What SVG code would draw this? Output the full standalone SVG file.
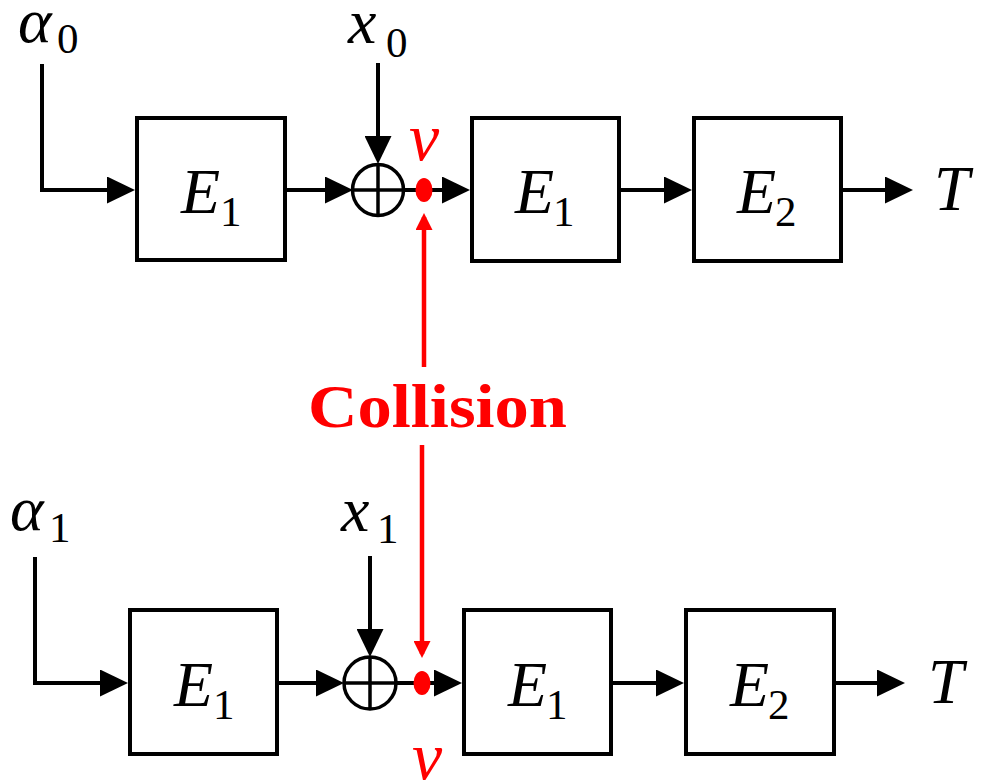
<svg xmlns="http://www.w3.org/2000/svg" width="981" height="781" viewBox="0 0 981 781">
<style>
.box{fill:#fff;stroke:#000;stroke-width:4}
.ln{fill:none;stroke:#000;stroke-width:4}
.xor{fill:#fff;stroke:#000;stroke-width:3.5}
.red{fill:none;stroke:#f00;stroke-width:4.5}
.mi{font-family:"Liberation Serif","Times New Roman",serif;font-style:italic;font-size:64px;fill:#000}
.sub{font-family:"Liberation Serif","Times New Roman",serif;font-size:43px;fill:#000}
.rv{font-family:"Liberation Serif","Times New Roman",serif;font-style:italic;font-size:68px;fill:#f00}
.col{font-family:"Liberation Serif","Times New Roman",serif;font-weight:bold;font-size:62px;fill:#f00}
</style>
<defs>
<marker id="ah" markerUnits="userSpaceOnUse" markerWidth="28" markerHeight="27" refX="22" refY="13.5" orient="auto"><path d="M0,0 L28,13.5 L0,27 z" fill="#000"/></marker>
<marker id="rh" markerUnits="userSpaceOnUse" markerWidth="17" markerHeight="17" refX="13" refY="8.5" orient="auto"><path d="M0,0 L17,8.5 L0,17 z" fill="#f00"/></marker>
</defs>
<g id="connectors">
<path class="ln" d="M42,64 V190 H129" marker-end="url(#ah)"/>
<path class="ln" d="M285,190 H347" marker-end="url(#ah)"/>
<path class="ln" d="M378,63 V158" marker-end="url(#ah)"/>
<path class="ln" d="M404,190 H464" marker-end="url(#ah)"/>
<path class="ln" d="M619,190 H686" marker-end="url(#ah)"/>
<path class="ln" d="M841,190 H907" marker-end="url(#ah)"/>
<path class="ln" d="M35,557 V683 H122" marker-end="url(#ah)"/>
<path class="ln" d="M277,683 H338" marker-end="url(#ah)"/>
<path class="ln" d="M370,556 V651" marker-end="url(#ah)"/>
<path class="ln" d="M396,683 H456" marker-end="url(#ah)"/>
<path class="ln" d="M611,683 H678" marker-end="url(#ah)"/>
<path class="ln" d="M834,683 H899" marker-end="url(#ah)"/>
<path class="red" d="M424,367 V217" marker-end="url(#rh)"/>
<path class="red" d="M422,445 V654" marker-end="url(#rh)"/>
</g>
<g id="top-E1a"><rect class="box" x="137" y="118" width="148" height="142"/><text class="mi" x="181" y="213">E</text><text class="sub" x="220" y="226">1</text></g>
<g id="top-xor"><circle class="xor" cx="378" cy="190" r="25.5"/><path class="ln" style="stroke-width:3.5" d="M378,164.5 V215.5 M352.5,190 H403.5"/></g>
<g id="top-v"><ellipse cx="424" cy="190" rx="8.5" ry="12" fill="#f00"/><text class="rv" x="409" y="160">v</text></g>
<g id="top-E1b"><rect class="box" x="472" y="118" width="147" height="143"/><text class="mi" x="515" y="213">E</text><text class="sub" x="553" y="226">1</text></g>
<g id="top-E2"><rect class="box" x="694" y="118" width="147" height="143"/><text class="mi" x="737" y="213">E</text><text class="sub" x="775" y="226">2</text></g>
<g id="top-labels"><text class="mi" x="18" y="42">α</text><text class="sub" x="57" y="53">0</text><text class="mi" x="348" y="43">x</text><text class="sub" x="386" y="57">0</text><text class="mi" x="934" y="210">T</text></g>
<g id="collision"><text class="col" x="308" y="427" textLength="259" lengthAdjust="spacingAndGlyphs">Collision</text></g>
<g id="bot-E1a"><rect class="box" x="130" y="610" width="147" height="144"/><text class="mi" x="174" y="706">E</text><text class="sub" x="213" y="719">1</text></g>
<g id="bot-xor"><circle class="xor" cx="370" cy="683" r="26"/><path class="ln" style="stroke-width:3.5" d="M370,657 V709 M344,683 H396"/></g>
<g id="bot-v"><ellipse cx="422" cy="683" rx="8.5" ry="12" fill="#f00"/><text class="rv" x="412" y="779">v</text></g>
<g id="bot-E1b"><rect class="box" x="464" y="610" width="147" height="144"/><text class="mi" x="508" y="706">E</text><text class="sub" x="546" y="719">1</text></g>
<g id="bot-E2"><rect class="box" x="686" y="610" width="148" height="144"/><text class="mi" x="730" y="706">E</text><text class="sub" x="768" y="719">2</text></g>
<g id="bot-labels"><text class="mi" x="10" y="530">α</text><text class="sub" x="49" y="542">1</text><text class="mi" x="341" y="531">x</text><text class="sub" x="377" y="543">1</text><text class="mi" x="928" y="703">T</text></g>
</svg>
